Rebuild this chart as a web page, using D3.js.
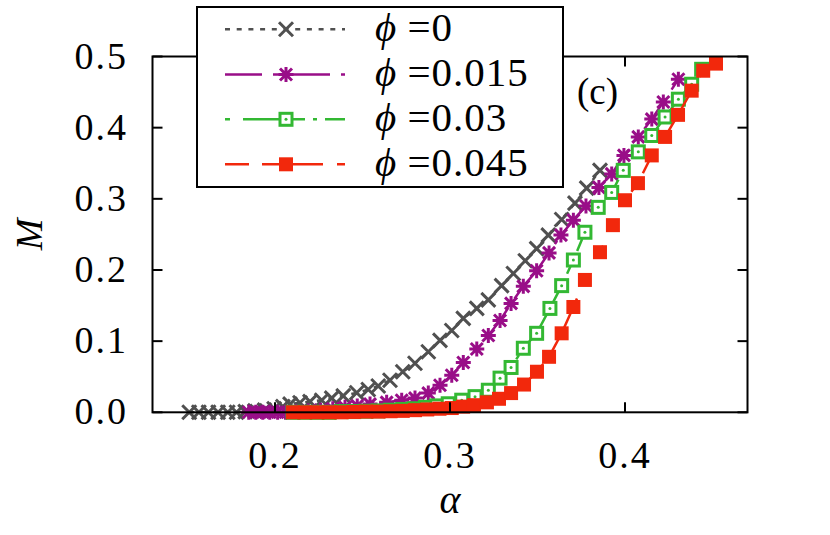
<!DOCTYPE html>
<html>
<head>
<meta charset="utf-8">
<script src="https://cdn.jsdelivr.net/npm/d3@7"></script>
<style>
  html, body { margin: 0; padding: 0; background: #fff; }
  svg { display: block; }
  svg text { font-family: 'Liberation Serif', 'DejaVu Serif', serif !important; fill: #000; }
</style>
</head>
<body>
<svg id="chart" width="830" height="535" font-family="Liberation Serif, DejaVu Serif, serif"></svg>
<script>
// ---------- data ----------
const seriesNames = ["0", "0.015", "0.03", "0.045"];

const alpha0 = [0.151,0.1565,0.162,0.1675,0.173,0.178,0.183,0.1885,0.194,0.1995,0.2045,0.2086,0.2143,0.2200,0.2267,0.2324,0.2390,0.2467,0.2533,0.2590,0.2657,0.2730,0.2800,0.2876,0.2943,0.3010,0.3076,0.3153,0.3219,0.3295,0.3362,0.3430,0.3495,0.3562,0.3638,0.3714,0.3781,0.3857];
const m0     = [0,0,0,0,0,0,0.001,0.002,0.003,0.005,0.008,0.0115,0.0135,0.015,0.017,0.020,0.023,0.0275,0.032,0.037,0.045,0.057,0.069,0.085,0.101,0.115,0.132,0.146,0.158,0.178,0.195,0.213,0.230,0.249,0.271,0.294,0.315,0.340];

const alpha1 = [0.185,0.189,0.193,0.197,0.2015,0.206,0.212,0.219,0.226,0.233,0.240,0.247,0.2543,0.2638,0.2724,0.2800,0.2876,0.2943,0.3010,0.3076,0.3153,0.3219,0.3286,0.3349,0.3419,0.3495,0.3566,0.3634,0.3705,0.3777,0.3851,0.3924,0.3994,0.4076,0.4153,0.4219,0.4305];
const m1     = [0,0,0,0,0,0,0.001,0.002,0.003,0.005,0.007,0.009,0.0115,0.014,0.017,0.020,0.027,0.038,0.052,0.070,0.089,0.108,0.129,0.153,0.177,0.199,0.224,0.249,0.270,0.290,0.316,0.335,0.361,0.387,0.412,0.436,0.468];

const alpha2 = [0.2103,0.217,0.224,0.231,0.238,0.245,0.252,0.259,0.266,0.273,0.2795,0.2860,0.2924,0.2990,0.3067,0.3143,0.3219,0.3286,0.3349,0.3419,0.3495,0.3571,0.3638,0.3705,0.3771,0.3847,0.3924,0.3990,0.4076,0.4153,0.4229,0.4305,0.4381,0.4438];
const m2     = [0,0,0,0,0.001,0.001,0.0015,0.002,0.003,0.004,0.005,0.007,0.009,0.012,0.017,0.022,0.031,0.048,0.063,0.090,0.111,0.146,0.178,0.214,0.253,0.288,0.309,0.340,0.366,0.389,0.415,0.440,0.461,0.482];

const alpha3 = [0.2103,0.217,0.224,0.231,0.238,0.245,0.252,0.259,0.266,0.273,0.280,0.287,0.294,0.301,0.3075,0.3137,0.3211,0.3280,0.3349,0.3423,0.3497,0.3566,0.3638,0.3705,0.3771,0.3857,0.3931,0.4000,0.4074,0.4153,0.4229,0.4303,0.4381,0.4447,0.4520];
const m3     = [0,0,0,0,0,0.0005,0.001,0.001,0.0015,0.002,0.003,0.004,0.005,0.006,0.008,0.010,0.014,0.019,0.027,0.039,0.057,0.078,0.111,0.148,0.186,0.225,0.263,0.298,0.322,0.361,0.387,0.418,0.452,0.480,0.490];

const xTicks = [0.2, 0.3, 0.4];
const yTicks = [0.0, 0.1, 0.2, 0.3, 0.4, 0.5];
const xTickLabels = ["0.2", "0.3", "0.4"];
const yTickLabels = ["0.0", "0.1", "0.2", "0.3", "0.4", "0.5"];

// ---------- layout ----------
const FONT = "Liberation Serif, DejaVu Serif, serif";
const svg = d3.select("#chart");
const L = 152.5, R = 747.5, T = 56.5, B = 412.3;
const x = d3.scaleLinear().domain([0.13, 0.47]).range([L, R]);
const y = d3.scaleLinear().domain([0, 0.5]).range([B, T]);

const styles = [
  { color: "#505050", dash: "5,6.7", marker: "cross" },
  { color: "#990e88", dash: "37,11,57,11,4,11", marker: "star" },
  { color: "#33b833", dash: "5,13,62,8,4,8,20", marker: "osq" },
  { color: "#f2280c", dash: "24,13,61,14,8", marker: "fsq" }
];
const seriesData = [
  d3.zip(alpha0, m0), d3.zip(alpha1, m1), d3.zip(alpha2, m2), d3.zip(alpha3, m3)
];

function drawMarker(g, type, color) {
  if (type === "cross") {
    g.append("path").attr("d", "M-7,-7L7,7M-7,7L7,-7")
      .attr("stroke", color).attr("stroke-width", 3).attr("fill", "none");
  } else if (type === "star") {
    g.append("path").attr("d", "M-6,-6L6,6M-6,6L6,-6M0,-7.5L0,7.5M-7.5,0L7.5,0")
      .attr("stroke", color).attr("stroke-width", 3).attr("fill", "none");
  } else if (type === "osq") {
    g.append("rect").attr("x", -6).attr("y", -6).attr("width", 12).attr("height", 12)
      .attr("stroke", color).attr("stroke-width", 3).attr("fill", "#fff");
    g.append("circle").attr("r", 1.5).attr("fill", color);
  } else {
    g.append("rect").attr("x", -7).attr("y", -7).attr("width", 14).attr("height", 14)
      .attr("fill", color);
  }
}

function txt(sel) { return sel.attr("font-family", FONT).attr("fill", "#000"); }

// background
svg.append("rect").attr("width", 830).attr("height", 535).attr("fill", "#fff");

// data
const line = d3.line().x(d => x(d[0])).y(d => y(d[1]));
seriesData.forEach((data, i) => {
  const st = styles[i];
  const g = svg.append("g");
  g.append("path").datum(data).attr("d", line)
    .attr("fill", "none").attr("stroke", st.color).attr("stroke-width", 2.5)
    .attr("stroke-dasharray", st.dash);
  g.selectAll("g.m").data(data).enter().append("g")
    .attr("transform", d => `translate(${x(d[0])},${y(d[1])})`)
    .each(function () { drawMarker(d3.select(this), st.marker, st.color); });
});

// border and ticks
const axisG = svg.append("g").attr("stroke", "#000").attr("stroke-width", 2).attr("fill", "none");
axisG.append("rect").attr("x", L).attr("y", T).attr("width", R - L).attr("height", B - T);
xTicks.forEach(v => {
  axisG.append("line").attr("x1", x(v)).attr("x2", x(v)).attr("y1", B).attr("y2", B - 10);
  axisG.append("line").attr("x1", x(v)).attr("x2", x(v)).attr("y1", T).attr("y2", T + 10);
});
yTicks.forEach(v => {
  axisG.append("line").attr("x1", L).attr("x2", L + 10).attr("y1", y(v)).attr("y2", y(v));
  axisG.append("line").attr("x1", R).attr("x2", R - 10).attr("y1", y(v)).attr("y2", y(v));
});

// tick labels
txt(svg.selectAll("text.xt").data(xTicks).enter().append("text"))
  .attr("x", d => x(d)).attr("y", B + 56).attr("text-anchor", "middle")
  .attr("font-size", 38).attr("letter-spacing", 2).text((d, i) => xTickLabels[i]);
txt(svg.selectAll("text.yt").data(yTicks).enter().append("text"))
  .attr("x", 128).attr("y", d => y(d) + 12).attr("text-anchor", "end")
  .attr("font-size", 38).attr("letter-spacing", 2).text((d, i) => yTickLabels[i]);

// axis titles
txt(svg.append("text")).attr("x", x(0.3)).attr("y", 513).attr("text-anchor", "middle")
  .attr("font-size", 40).attr("font-style", "italic").text("α");
txt(svg.append("text")).attr("transform", `translate(42,${(T + B) / 2}) rotate(-90)`)
  .attr("text-anchor", "middle").attr("font-size", 38).attr("font-style", "italic").text("M");

// panel label
txt(svg.append("text")).attr("x", 577).attr("y", 104).attr("font-size", 37).text("(c)");

// legend
const lg = svg.append("g");
lg.append("rect").attr("x", 197).attr("y", 7).attr("width", 366).attr("height", 180)
  .attr("fill", "#fff").attr("stroke", "#000").attr("stroke-width", 2);
const rowY = [29.3, 74.5, 119.3, 164.3];
seriesNames.forEach((name, i) => {
  const st = styles[i];
  lg.append("line").attr("x1", 225).attr("x2", 345).attr("y1", rowY[i]).attr("y2", rowY[i])
    .attr("stroke", st.color).attr("stroke-width", 2.5).attr("stroke-dasharray", st.dash);
  const mg = lg.append("g").attr("transform", `translate(286,${rowY[i]})`);
  drawMarker(mg, st.marker, st.color);
  const t = txt(lg.append("text")).attr("x", 375).attr("y", rowY[i] + 11.5).attr("font-size", 41);
  t.append("tspan").attr("font-style", "italic").text("ϕ");
  t.append("tspan").attr("letter-spacing", 1).text(" =" + name);
});
</script>
</body>
</html>
